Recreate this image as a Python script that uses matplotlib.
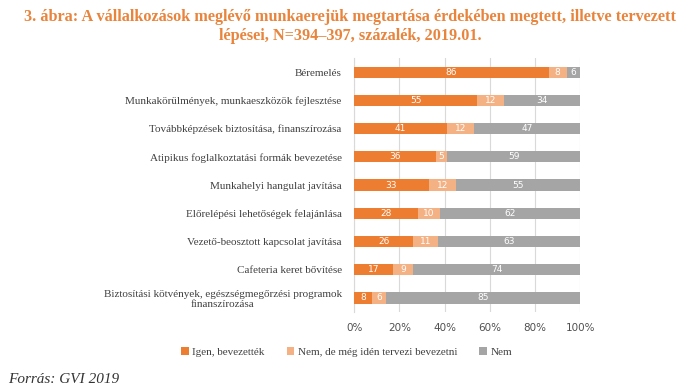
import matplotlib
matplotlib.use("Agg")
import matplotlib.pyplot as plt
import numpy as np
from matplotlib.ticker import FuncFormatter

categories = [
    "Béremelés",
    "Munkakörülmények, munkaeszközök fejlesztése",
    "Továbbképzések biztosítása, finanszírozása",
    "Atipikus foglalkoztatási formák bevezetése",
    "Munkahelyi hangulat javítása",
    "Előrelépési lehetőségek felajánlása",
    "Vezető-beosztott kapcsolat javítása",
    "Cafeteria keret bővítése",
    "Biztosítási kötvények, egészségmegőrzési programok\nfinanszírozása",
]
igen = [86, 55, 41, 36, 33, 28, 26, 17, 8]
tervezi = [8, 12, 12, 5, 12, 10, 11, 9, 6]
nem = [6, 34, 47, 59, 55, 62, 63, 74, 85]
series_names = ["Igen, bevezették", "Nem, de még idén tervezi bevezetni", "Nem"]
colors = ["#ED7D31", "#F4B183", "#A5A5A5"]
xticks = [0, 20, 40, 60, 80, 100]

fig = plt.figure(figsize=(7, 3.9), dpi=100)
ax = fig.add_axes([0.506, 0.2, 0.323, 0.651])

data = np.array([igen, tervezi, nem], dtype=float)
totals = data.sum(axis=0)
norm = data / totals * 100
y = np.arange(len(categories))
left = np.zeros(len(categories))
for i in range(3):
    bars = ax.barh(y, norm[i], left=left, height=0.4, color=colors[i],
                   label=series_names[i], zorder=3)
    for j, b in enumerate(bars):
        ax.text(left[j] + norm[i][j] / 2, y[j], f"{int(data[i][j])}",
                ha="center", va="center", color="white", fontsize=6.5,
                family="DejaVu Sans", zorder=4)
    left += norm[i]

ax.set_ylim(len(categories) - 0.5, -0.5)
ax.set_xlim(0, 100)
ax.set_xticks(xticks)
ax.xaxis.set_major_formatter(FuncFormatter(lambda v, p: f"{int(v)}%"))
ax.set_yticks(y)
ax.set_yticklabels(categories, fontsize=8, family="Liberation Serif",
                   color="#404040", linespacing=1.1, multialignment="center")
ax.tick_params(axis="y", length=0, pad=9)
ax.tick_params(axis="x", length=0, pad=8, labelsize=7.5, labelcolor="#505050")
for lbl in ax.get_xticklabels():
    lbl.set_family("DejaVu Sans")
ax.grid(axis="x", color="#D9D9D9", linewidth=0.8, zorder=0)
for s in ["top", "right", "bottom"]:
    ax.spines[s].set_visible(False)
ax.spines["left"].set_color("#D9D9D9")

leg = fig.legend(loc="center", bbox_to_anchor=(0.495, 0.097), ncol=3, frameon=False,
                 prop={"family": "Liberation Serif", "size": 8},
                 handlelength=0.7, handleheight=0.7, columnspacing=2.0,
                 handletextpad=0.3)
for t in leg.get_texts():
    t.set_color("#404040")

fig.text(0.5, 0.978, "3. ábra: A vállalkozások meglévő munkaerejük megtartása érdekében megtett, illetve tervezett\nlépései, N=394–397, százalék, 2019.01.",
         ha="center", va="top", fontsize=11.7, fontweight="bold", color="#E8843C",
         family="Liberation Serif", linespacing=1.32)
fig.text(0.012, 0.026, "Forrás: GVI 2019", ha="left", va="center", fontsize=11,
         style="italic", family="Liberation Serif", color="#333333")

fig.savefig("out.png", dpi=100)
